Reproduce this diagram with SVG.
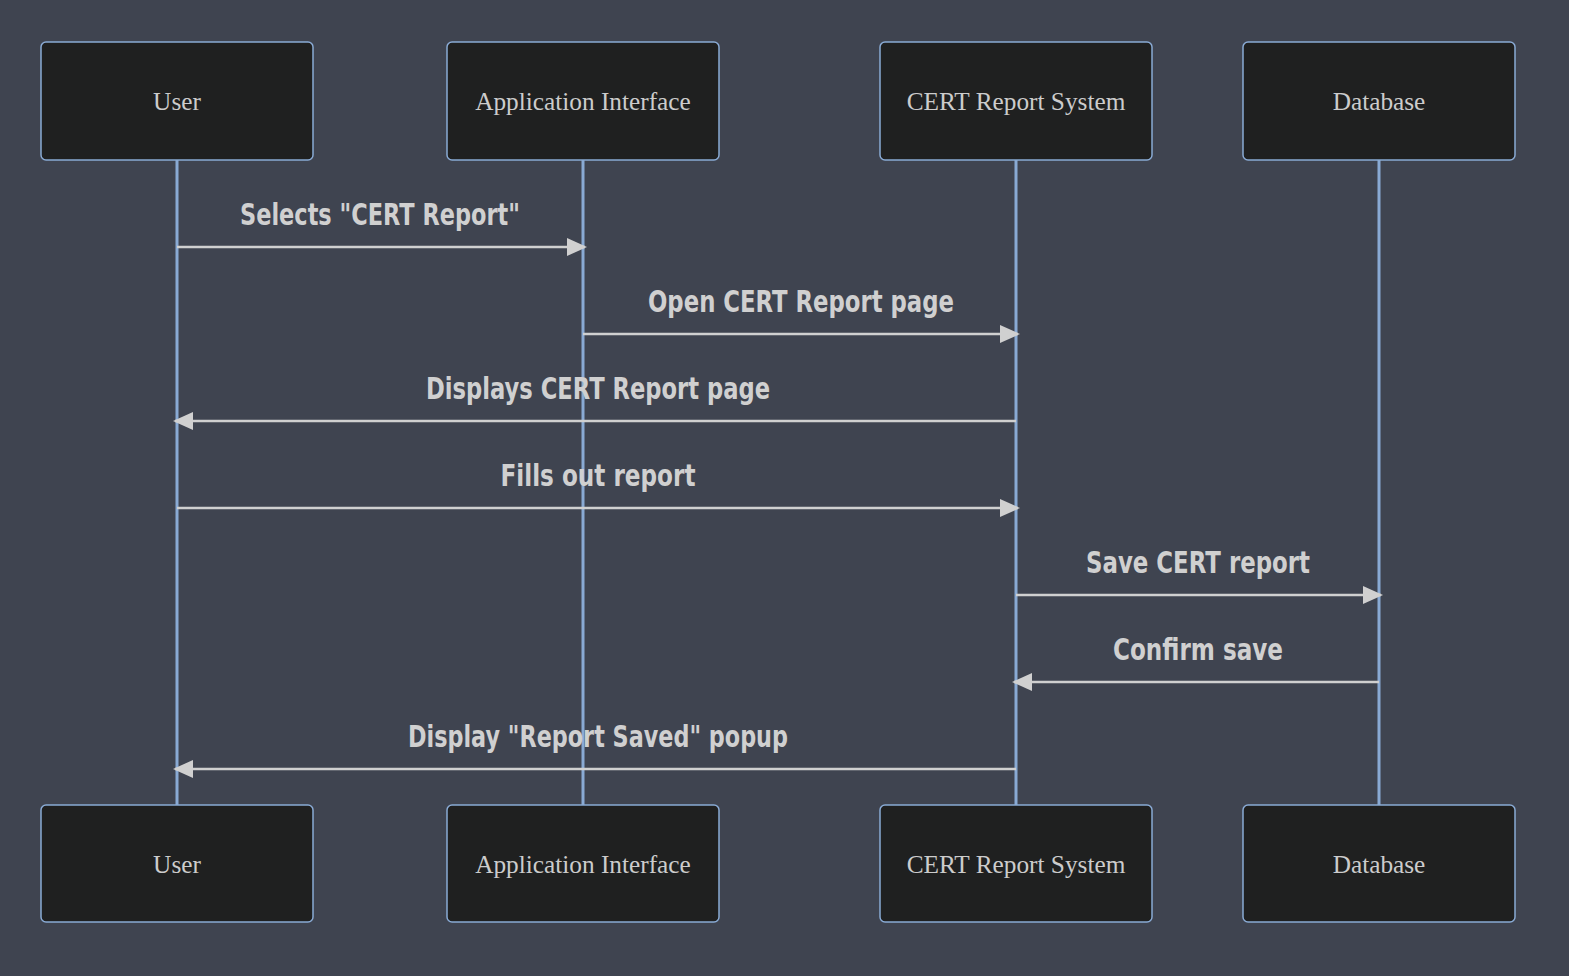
<svg xmlns="http://www.w3.org/2000/svg" width="1569" height="976" viewBox="0 0 1569 976">
<defs>
<marker id="ah" viewBox="0 0 20 20" refX="18" refY="10" markerWidth="20" markerHeight="20" markerUnits="userSpaceOnUse" orient="auto">
<path d="M0,1 L20,10 L0,19 z" fill="#d0d0d0"/>
</marker>
</defs>
<style>
.box{fill:#1f2020;stroke:#89aad4;stroke-width:1.5}
.pt{font-family:"Liberation Serif","Times New Roman",serif;font-size:25.3px;fill:#cccccc;text-anchor:middle}
.life{stroke:#89aad4;stroke-width:3}
.msg{stroke:#d0d0d0;stroke-width:2.5;fill:none;marker-end:url(#ah)}
.ml{font-family:"DejaVu Sans",sans-serif;font-weight:bold;font-size:30px;fill:#d0d0d0;text-anchor:middle}
</style>
<rect width="1569" height="976" fill="#3f4450"/>
<g id="lifelines">
<line class="life" x1="177" y1="160" x2="177" y2="805"/>
<line class="life" x1="583" y1="160" x2="583" y2="805"/>
<line class="life" x1="1016" y1="160" x2="1016" y2="805"/>
<line class="life" x1="1379" y1="160" x2="1379" y2="805"/>
</g>
<g id="user-top"><rect class="box" x="41" y="42" width="272" height="118" rx="5"/><text class="pt" x="177" y="110">User</text></g>
<g id="app-top"><rect class="box" x="447" y="42" width="272" height="118" rx="5"/><text class="pt" x="583" y="110">Application Interface</text></g>
<g id="cert-top"><rect class="box" x="880" y="42" width="272" height="118" rx="5"/><text class="pt" x="1016" y="110">CERT Report System</text></g>
<g id="db-top"><rect class="box" x="1243" y="42" width="272" height="118" rx="5"/><text class="pt" x="1379" y="110">Database</text></g>
<g id="user-bottom"><rect class="box" x="41" y="805" width="272" height="117" rx="5"/><text class="pt" x="177" y="873">User</text></g>
<g id="app-bottom"><rect class="box" x="447" y="805" width="272" height="117" rx="5"/><text class="pt" x="583" y="873">Application Interface</text></g>
<g id="cert-bottom"><rect class="box" x="880" y="805" width="272" height="117" rx="5"/><text class="pt" x="1016" y="873">CERT Report System</text></g>
<g id="db-bottom"><rect class="box" x="1243" y="805" width="272" height="117" rx="5"/><text class="pt" x="1379" y="873">Database</text></g>
<g id="connectors">
<line class="msg" x1="177" y1="247" x2="585" y2="247"/>
<text class="ml" x="380" y="225" textLength="280" lengthAdjust="spacingAndGlyphs">Selects "CERT Report"</text>
<line class="msg" x1="583" y1="334" x2="1018" y2="334"/>
<text class="ml" x="801" y="312" textLength="306" lengthAdjust="spacingAndGlyphs">Open CERT Report page</text>
<line class="msg" x1="1016" y1="421" x2="175" y2="421"/>
<text class="ml" x="598" y="399" textLength="344" lengthAdjust="spacingAndGlyphs">Displays CERT Report page</text>
<line class="msg" x1="177" y1="508" x2="1018" y2="508"/>
<text class="ml" x="598" y="486" textLength="195" lengthAdjust="spacingAndGlyphs">Fills out report</text>
<line class="msg" x1="1016" y1="595" x2="1381" y2="595"/>
<text class="ml" x="1198" y="573" textLength="224" lengthAdjust="spacingAndGlyphs">Save CERT report</text>
<line class="msg" x1="1379" y1="682" x2="1014" y2="682"/>
<text class="ml" x="1198" y="660" textLength="170" lengthAdjust="spacingAndGlyphs">Confirm save</text>
<line class="msg" x1="1016" y1="769" x2="175" y2="769"/>
<text class="ml" x="598" y="747" textLength="380" lengthAdjust="spacingAndGlyphs">Display "Report Saved" popup</text>
</g>
</svg>
